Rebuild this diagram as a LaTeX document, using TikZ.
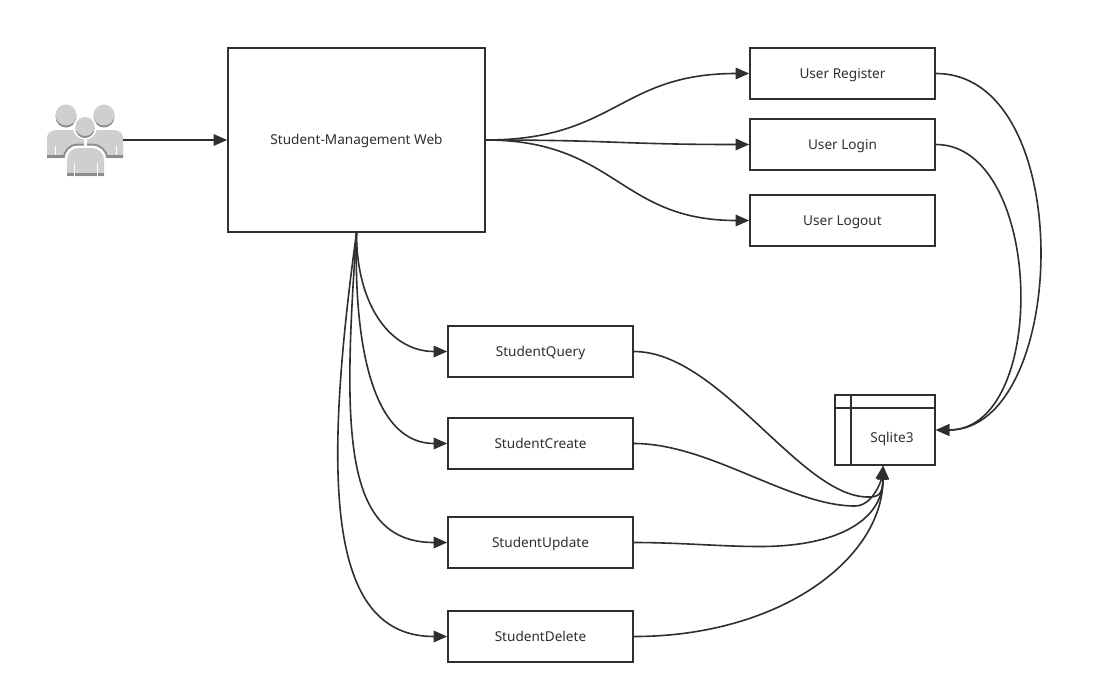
\documentclass[tikz,border=0pt]{standalone}
\usepackage{fontspec}
\setmainfont{Noto Sans}
\usetikzlibrary{arrows.meta}
\definecolor{ink}{HTML}{2F2F2F}
\definecolor{pers}{HTML}{CFCFCF}
\definecolor{persd}{HTML}{8C8C8C}
\tikzset{
  x=1pt,y=-1pt,
  label text/.style={font=\fontsize{13.6}{15}\selectfont,text=ink,text height=9pt,text depth=0pt},
  box/.style={draw=ink,line width=1.7pt,fill=white,inner sep=0pt,minimum width=185pt,minimum height=50.5pt,label text},
  link/.style={draw=ink,line width=1.6pt,-{Triangle[length=13.5pt,width=11.5pt]}},
}
\begin{document}
\begin{tikzpicture}
\useasboundingbox (0,0) rectangle (1109,694);
\fill[white] (0,0) rectangle (1109,694);
% people icon
\foreach \cx/\bx/\sa/\sb in {66/47/55/77,104/85/93/116}{
  \fill[persd] (\cx,117) circle (10.5);
  \fill[pers] (\cx,115) circle (10.5);
  \fill[pers] (\bx,158) -- (\bx,138) .. controls (\bx,133) and (\bx+4,130) .. (\bx+10,130) -- (\bx+28,130) .. controls (\bx+34,130) and (\bx+38,133) .. (\bx+38,138) -- (\bx+38,158) -- cycle;
  \fill[persd] (\bx,155) rectangle (\bx+38,158);
  \draw[white,line width=.8pt] (\sa,146) -- (\sa,155) (\sb,146) -- (\sb,155);
}
\begin{scope}
  \clip (40,100) rectangle (130,155);
  \draw[persd,line width=9pt] (67,176) -- (67,160) .. controls (67,153) and (72,148) .. (78,148) -- (92,148) .. controls (98,148) and (104,153) .. (104,160) -- (104,176);
\end{scope}
\draw[white,line width=5pt] (67,180) -- (67,160) .. controls (67,153) and (72,148) .. (78,148) -- (92,148) .. controls (98,148) and (104,153) .. (104,160) -- (104,180);
\fill[white] (62,158) rectangle (109,180);
\fill[white] (85,127.5) circle (12);
\fill[white] (83.5,138) rectangle (86.5,148);
\fill[pers] (67,176) -- (67,160) .. controls (67,153) and (72,148) .. (78,148) -- (92,148) .. controls (98,148) and (104,153) .. (104,160) -- (104,176) -- cycle;
\fill[persd] (67,173) rectangle (104,176);
\draw[white,line width=.8pt] (74,163) -- (74,176) (97,163) -- (97,176);
\fill[persd] (85,128.5) circle (9.5);
\fill[pers] (85,126.5) circle (9.5);
\coordinate (people) at (123,140);
% nodes
\node[box,minimum width=257pt,minimum height=184pt] (web) at (356.5,140) {Student-Management Web};
\node[box] (reg) at (842.5,73.5) {User Register};
\node[box] (login) at (842.5,144.5) {User Login};
\node[box] (logout) at (842.5,220.5) {User Logout};
\node[box] (query) at (540.5,351.5) {StudentQuery};
\node[box] (create) at (540.5,443.5) {StudentCreate};
\node[box] (update) at (540.5,542.5) {StudentUpdate};
\node[box] (delete) at (540.5,636.5) {StudentDelete};
\node[draw=ink,line width=1.7pt,fill=white,inner sep=0pt,minimum width=100pt,minimum height=70pt] (db) at (885,430) {};
\node[label text] (dbl) at (892,437.5) {Sqlite3};
\draw[draw=ink,line width=1.5pt] (db.north west) ++(0,14) -- ++(100,0);
\draw[draw=ink,line width=1.5pt] (db.north west) ++(17,0) -- ++(0,70);
% connectors
\coordinate (qk) at (868,497);
\coordinate (ck) at (855,506);
\coordinate (uk) at (760,546.5);
\draw[link] (people) -- (web);
\draw[link] (web.east) .. controls +(130,0) and +(-130,0) .. (reg.west);
\draw[link] (web.east) .. controls +(130,0) and +(-130,0) .. (login.west);
\draw[link] (web.east) .. controls +(130,0) and +(-130,0) .. (logout.west);
\draw[link] (web.south) .. controls +(0,75) and +(-55,0) .. (query.west);
\draw[link] (web.south) .. controls +(-3,120) and +(-72,0) .. (create.west);
\draw[link] (web.south) .. controls +(-14,200) and +(-104,0) .. (update.west);
\draw[link] (web.south) .. controls +(-36,262) and +(-116,0) .. (delete.west);
\draw[link] (reg.east) .. controls +(143,0) and +(133,0) .. (db.east);
\draw[link] (login.east) .. controls +(108,0) and +(114,0) .. (db.east);
\draw[link] (query.east) .. controls +(86,0) and +(-68,0) .. (qk) .. controls +(9,0) and +(0,30) .. ([xshift=-2pt]db.south);
\draw[link] (create.east) .. controls +(76,0) and +(-65,0) .. (ck) .. controls +(17,0) and +(-2,16) .. ([xshift=-2pt]db.south);
\draw[link] (update.east) .. controls +(46,0) and +(-40,0) .. (uk) .. controls +(80,0) and +(0,53) .. ([xshift=-2pt]db.south);
\draw[link] (delete.east) .. controls +(146,0) and +(0,93) .. ([xshift=-2pt]db.south);
\end{tikzpicture}
\end{document}
